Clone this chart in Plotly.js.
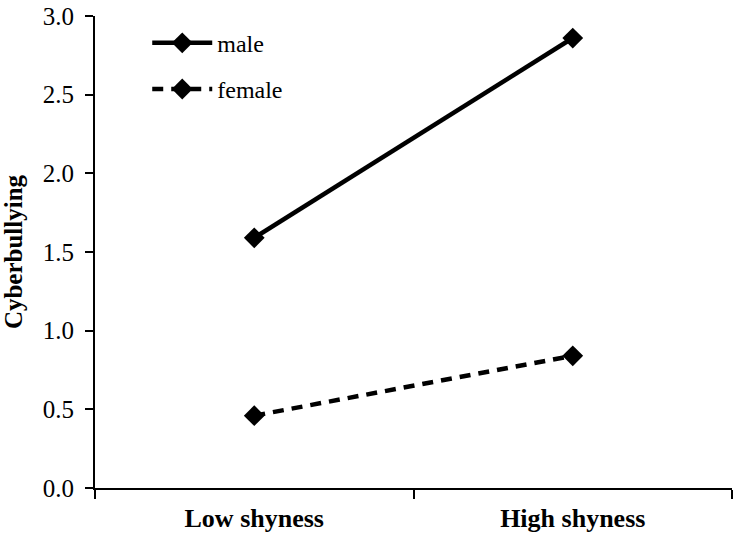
<!DOCTYPE html>
<html>
<head>
<meta charset="utf-8">
<script src="https://cdn.plot.ly/plotly-3.0.1.min.js"></script>
<style>
  body { margin: 0; background: #fff; }
  #graphArea { width: 739px; height: 538px; }
</style>
</head>
<body>
<div id="graphArea"></div>
<script>
// shyness levels on the x axis
var shyness = ["Low shyness", "High shyness"];

// cyberbullying means
var maleVals = [1.59, 2.86];
var femaleVals = [0.46, 0.84];

var yTicks = [0, 0.5, 1, 1.5, 2, 2.5, 3];
var yTickText = ["0.0", "0.5", "1.0", "1.5", "2.0", "2.5", "3.0"];

var serif = "Liberation Serif, Times New Roman, serif";

var male = {
    x: shyness,
    y: maleVals,
    name: "male",
    mode: "lines+markers",
    type: "scatter",
    legendgroup: "m",
    line: {color: "#000", width: 4.5},
    marker: {symbol: "diamond", size: 16, color: "#000"}
};

var female = {
    x: shyness,
    y: femaleVals,
    name: "female",
    mode: "lines+markers",
    type: "scatter",
    legendgroup: "f",
    line: {color: "#000", width: 4.5, dash: "11px,8px"},
    marker: {symbol: "diamond", size: 16, color: "#000"}
};

var layout = {
    width: 739,
    height: 538,
    margin: {l: 95, r: 7, t: 16, b: 50},
    paper_bgcolor: "#fff",
    plot_bgcolor: "#fff",
    font: {family: serif, color: "#000", size: 24},
    showlegend: true,
    legend: {
        x: 0.082, y: 0.99, xanchor: "left", yanchor: "top",
        bgcolor: "rgba(0,0,0,0)",
        traceorder: "grouped",
        tracegroupgap: 12,
        itemwidth: 60,
        font: {family: serif, size: 24}
    },
    xaxis: {
        type: "category",
        range: [-0.5, 1.5],
        tickson: "boundaries",
        ticks: "outside",
        ticklen: 9,
        tickwidth: 2,
        tickcolor: "#000",
        ticklabelstandoff: 6,
        showline: true,
        linewidth: 2,
        linecolor: "#000",
        showgrid: false,
        zeroline: false,
        tickfont: {family: serif, size: 26, weight: "bold"}
    },
    yaxis: {
        range: [0, 3],
        tickvals: yTicks,
        ticktext: yTickText,
        ticks: "outside",
        ticklen: 8,
        tickwidth: 2,
        tickcolor: "#000",
        ticklabelstandoff: 6,
        showline: true,
        linewidth: 2,
        linecolor: "#000",
        showgrid: false,
        zeroline: false,
        tickfont: {family: serif, size: 25},
        title: {text: "Cyberbullying", standoff: 14, font: {family: serif, size: 25, weight: "bold"}}
    }
};

Plotly.newPlot("graphArea", [male, female], layout, {displayModeBar: false});
</script>
</body>
</html>
